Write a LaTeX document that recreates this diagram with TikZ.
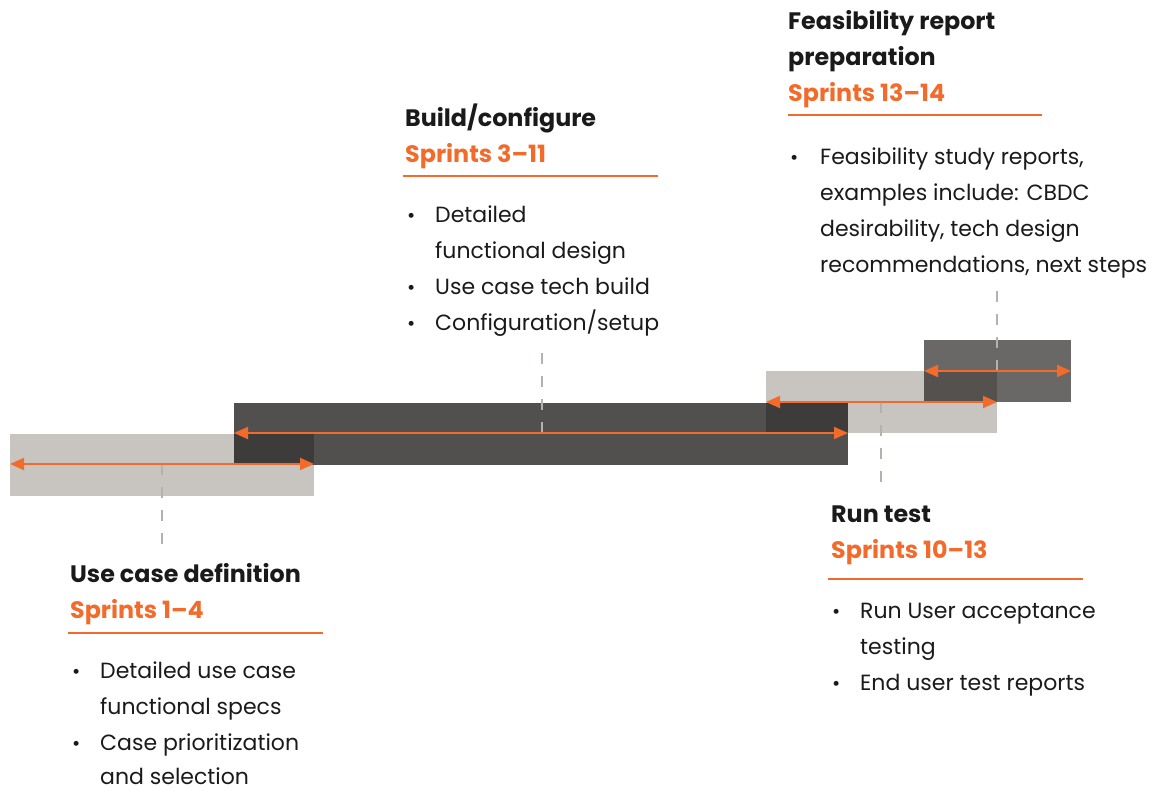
\documentclass[tikz,border=0pt]{standalone}
\usepackage{fontspec}
\setmainfont{Poppins}
\usetikzlibrary{arrows.meta}
\definecolor{lightbar}{HTML}{C8C5C0}
\definecolor{darkbar}{HTML}{52504E}
\definecolor{darkover}{HTML}{3E3C3A}
\definecolor{featbar}{HTML}{6A6866}
\definecolor{featover}{HTML}{55514E}
\definecolor{accent}{HTML}{F26B2A}
\definecolor{dashgray}{HTML}{B5B2AE}
\definecolor{ink}{HTML}{1A1A1A}
\tikzset{
  head/.style={anchor=base west, inner sep=0pt, font=\fontsize{23.8}{24}\selectfont\bfseries, text=ink},
  sprint/.style={anchor=base west, inner sep=0pt, font=\fontsize{23.8}{24}\selectfont\bfseries, text=accent},
  body/.style={anchor=base west, inner sep=0pt, font=\fontsize{22}{22}\selectfont, text=ink},
  bul/.style={anchor=base west, inner sep=0pt, font=\fontsize{20}{20}\selectfont, text=ink},
  rule/.style={draw=accent, line width=2pt},
  span/.style={draw=accent, line width=2pt, {Triangle[length=14pt,width=12pt]}-{Triangle[length=14pt,width=12pt]}},
  lead/.style={draw=dashgray, line width=2.5pt, dash pattern=on 11pt off 12pt},
}
\begin{document}
\begin{tikzpicture}[x=1pt,y=-1pt]
\useasboundingbox (0,0) rectangle (1170,790);
% bars
\fill[lightbar] (10,434) rectangle (314,496);
\fill[darkbar] (234,403) rectangle (848,465);
\fill[darkover] (234,434) rectangle (314,465);
\fill[lightbar] (766,371) rectangle (997,433);
\fill[darkover] (766,403) rectangle (848,433);
\fill[featbar] (924,340) rectangle (1071,402);
\fill[featover] (924,371) rectangle (997,402);
% span coordinates
\coordinate (a1) at (10,464); \coordinate (a2) at (314,464);
\coordinate (b1) at (234,433); \coordinate (b2) at (848,433);
\coordinate (c1) at (766,402); \coordinate (c2) at (997,402);
\coordinate (d1) at (924,371); \coordinate (d2) at (1071,371);
% leader coordinates
\coordinate (la1) at (162,464); \coordinate (la2) at (162,548);
\coordinate (lb1) at (542,433); \coordinate (lb2) at (542,350);
\coordinate (lc1) at (881,402); \coordinate (lc2) at (881,488);
\coordinate (ld1) at (997,371); \coordinate (ld2) at (997,290);
\draw[lead] (la1) -- (la2);
\draw[lead] (lb1) -- (lb2);
\draw[lead] (lc1) -- (lc2);
\draw[lead] (ld1) -- (ld2);
\draw[span] (a1) -- (a2);
\draw[span] (b1) -- (b2);
\draw[span] (c1) -- (c2);
\draw[span] (d1) -- (d2);

% Feasibility
\node[head] (fh1) at (788,29) {Feasibility report};
\node[head] (fh2) at (788,65) {preparation};
\node[sprint] (fs) at (788,101) {Sprints 13–14};
\coordinate (fr1) at (788,115); \coordinate (fr2) at (1042,115);
\draw[rule] (fr1) -- (fr2);
\node[bul] (fb1) at (790,164) {•};
\node[body] (ft1) at (820,164) {Feasibility study reports,};
\node[body] (ft2) at (820,200) {examples include: CBDC};
\node[body] (ft3) at (820,236) {desirability, tech design};
\node[body] (ft4) at (820,272) {recommendations, next steps};

% Build
\node[head] (bh1) at (405,126) {Build/configure};
\node[sprint] (bs) at (405,162) {Sprints 3–11};
\coordinate (br1) at (403,176); \coordinate (br2) at (658,176);
\draw[rule] (br1) -- (br2);
\node[bul] (bb1) at (407,222) {•};
\node[body] (bt1) at (435,222) {Detailed};
\node[body] (bt2) at (435,258) {functional design};
\node[bul] (bb2) at (407,294) {•};
\node[body] (bt3) at (435,294) {Use case tech build};
\node[bul] (bb3) at (407,330) {•};
\node[body] (bt4) at (435,330) {Configuration/setup};

% Run test
\node[head] (rh1) at (831,522) {Run test};
\node[sprint] (rs) at (831,558) {Sprints 10–13};
\coordinate (rr1) at (828,579); \coordinate (rr2) at (1083,579);
\draw[rule] (rr1) -- (rr2);
\node[bul] (rb1) at (832,618) {•};
\node[body] (rt1) at (860,618) {Run User acceptance};
\node[body] (rt2) at (860,654) {testing};
\node[bul] (rb2) at (832,690) {•};
\node[body] (rt3) at (860,690) {End user test reports};

% Use case
\node[head] (uh1) at (70,582) {Use case definition};
\node[sprint] (us) at (70,618) {Sprints 1–4};
\coordinate (ur1) at (68,633); \coordinate (ur2) at (323,633);
\draw[rule] (ur1) -- (ur2);
\node[bul] (ub1) at (72,678) {•};
\node[body] (ut1) at (100,678) {Detailed use case};
\node[body] (ut2) at (100,714) {functional specs};
\node[bul] (ub2) at (72,750) {•};
\node[body] (ut3) at (100,750) {Case prioritization};
\node[body] (ut4) at (100,784) {and selection};
\end{tikzpicture}
\end{document}
